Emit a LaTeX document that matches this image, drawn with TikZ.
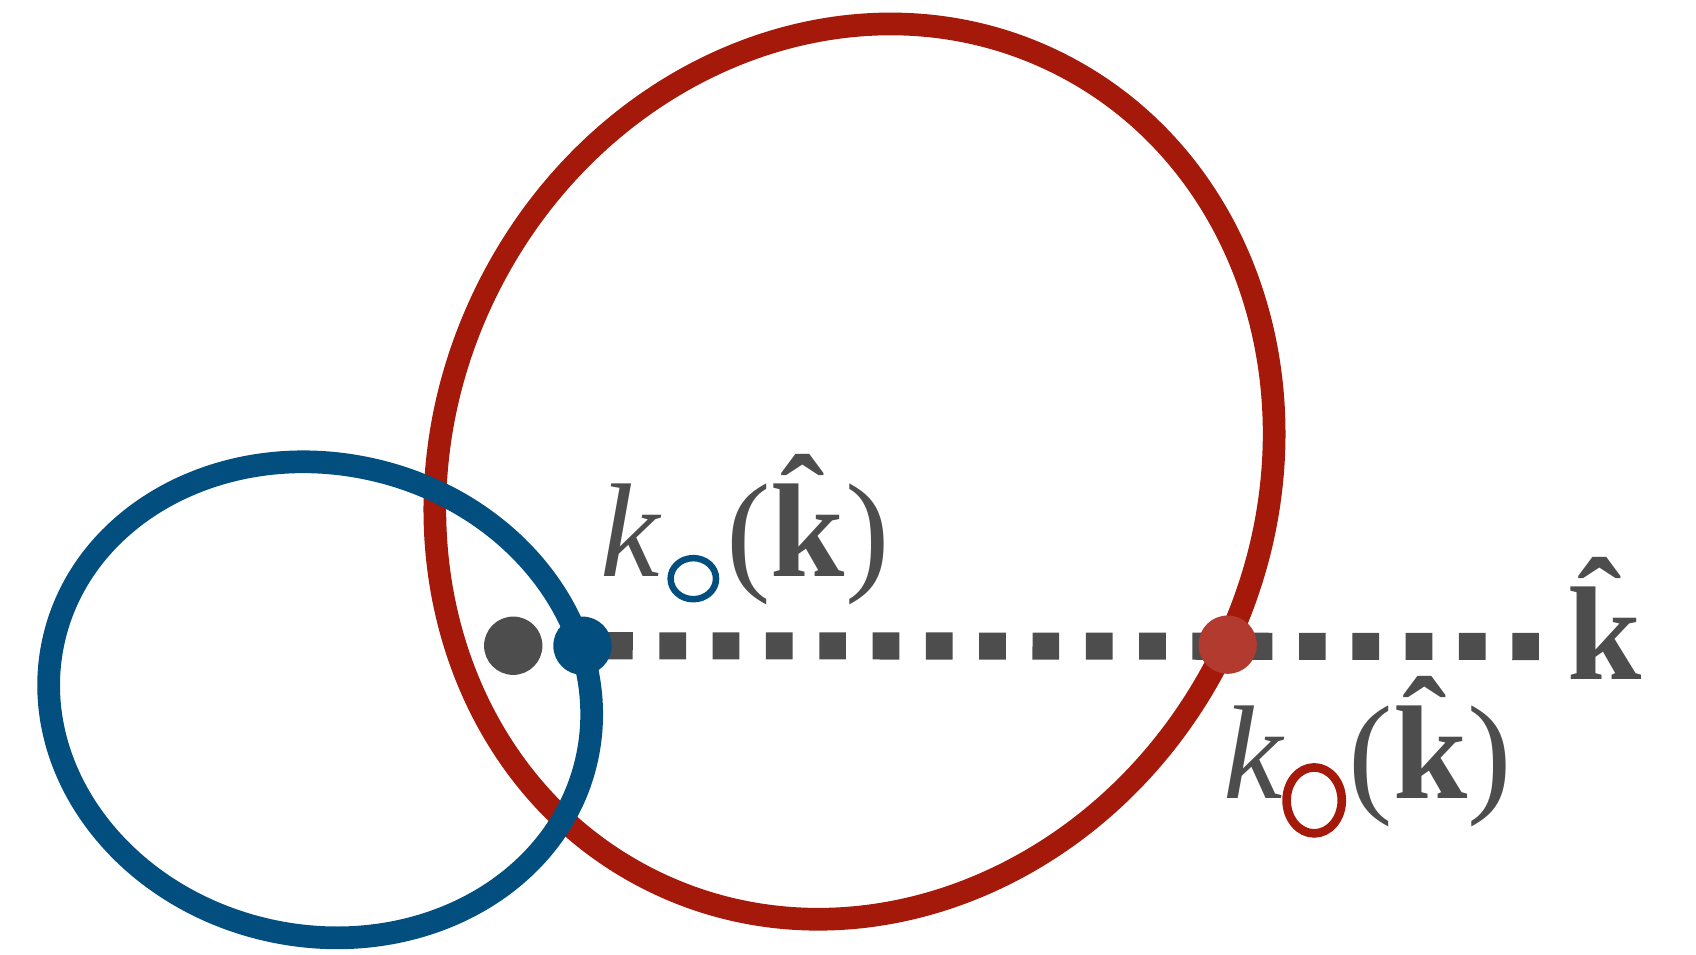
\documentclass[tikz,border=0pt]{standalone}
\usepackage{amsmath}
\usepackage{fontspec}
\setmainfont{Liberation Serif}
\usepackage{tikz}
\definecolor{ringblue}{HTML}{024F7F}
\definecolor{ringred}{HTML}{A5190B}
\definecolor{dotred}{HTML}{B33A2E}
\definecolor{ink}{HTML}{4D4D4D}
\newcommand\bhat{{\bfseries\ooalign{k\cr\hidewidth\raisebox{0.21em}{\char"02C6}\kern.08em\hidewidth\cr}}}

\begin{document}
\begin{tikzpicture}[x=0.010816cm,y=0.010816cm,
  lbl/.style={inner sep=0pt,anchor=base,text=ink,font=\fontsize{38}{40}\selectfont},
  dot/.style={circle,inner sep=0pt,minimum size=16.6pt},
  loop/.style={line width=6.46pt}]
  \useasboundingbox (0,0) rectangle (1568,882);
  \draw[loop,ringred,rotate around={63.5:(790,446)}] (790,446) ellipse [x radius=422,y radius=379];
  \draw[loop,ringblue,rotate around={-12.5:(296,235)}] (296,235) ellipse [x radius=252.5,y radius=218.3];
  \node[dot,fill=ink]      (odot) at (474.5,285) {};
  \node[dot]               (bdot) at (538.5,285) {};
  \node[dot]               (rdot) at (1135,286) {};
  \coordinate (kend) at (1424,284.3);
  \draw[ink,line width=7.7pt,dash pattern=on 7.6pt off 7.57pt,dash phase=8.46pt] (bdot.center) -- (kend);
  \node[dot,fill=ringblue] at (bdot) {};
  \node[dot,fill=dotred]   at (rdot) {};
  \node[lbl] (kblue)   at (583,349)    {\itshape k};
  \draw[ringblue,line width=1.85pt] (641,347) ellipse [x radius=21,y radius=19];
  \node[lbl] (argblue) at (747,349)    {(\bhat)};
  \node[lbl] (kred)    at (1159,144)   {\itshape k};
  \draw[ringred,line width=2.46pt] (1215,142) ellipse [x radius=25.5,y radius=30.5];
  \node[lbl] (argred)  at (1322.5,144) {(\bhat)};
  \node[lbl] (khat)    at (1483.5,254) {\bhat};
\end{tikzpicture}
\end{document}
